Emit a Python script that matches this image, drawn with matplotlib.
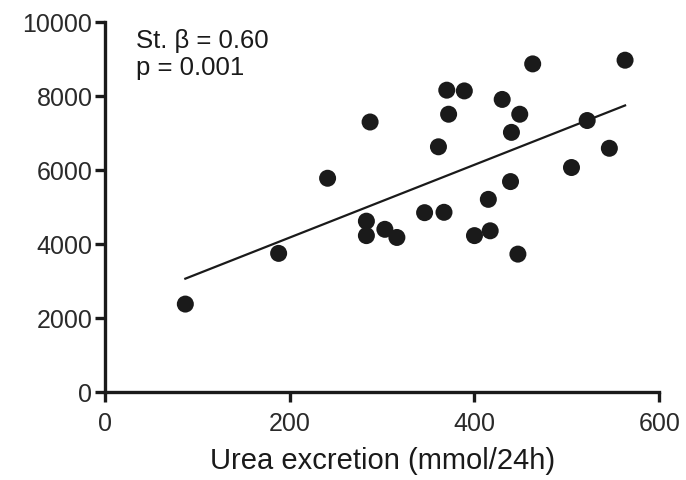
import numpy as np
import matplotlib
matplotlib.use("Agg")
import matplotlib.pyplot as plt

plt.rcParams["font.family"] = ["Liberation Sans", "DejaVu Sans"]

# urea excretion (mmol/24h) vs outcome per subject
urea = [87, 188, 241, 287, 283, 283, 303, 316, 346, 367, 361, 372, 370, 389,
        400, 417, 415, 430, 440, 439, 449, 447, 463, 505, 522, 546, 563]
value = [2380, 3750, 5780, 7300, 4620, 4230, 4400, 4180, 4850, 4860, 6630, 7510,
         8160, 8140, 4230, 4360, 5210, 7910, 7020, 5690, 7510, 3730, 8870, 6070,
         7340, 6590, 8970]
stats_text = "St. \u03b2 = 0.60\np = 0.001"

xticks = [0, 200, 400, 600]
yticks = [0, 2000, 4000, 6000, 8000, 10000]

ink = "#1a1a1a"

fig = plt.figure(figsize=(6.86, 4.80), dpi=100)
ax = fig.add_axes([0.153, 0.183, 0.808, 0.771])

ax.scatter(urea, value, s=150, color=ink, edgecolors="none", zorder=3)

# least-squares line over the observed range
slope, intercept = np.polyfit(urea, value, 1)
xs = np.array([min(urea), max(urea)])
ax.plot(xs, slope * xs + intercept, color=ink, lw=1.6, zorder=2)

ax.text(34, 9800, stats_text, va="top", ha="left", fontsize=18.5,
        color=ink, linespacing=1.12)

ax.set_xlim(0, 600)
ax.set_ylim(0, 10000)
ax.set_xticks(xticks)
ax.set_yticks(yticks)
ax.set_xlabel("Urea excretion (mmol/24h)", fontsize=21, color=ink, labelpad=8)

for side in ("top", "right"):
    ax.spines[side].set_visible(False)
for side in ("left", "bottom"):
    ax.spines[side].set_linewidth(2.4)
    ax.spines[side].set_color(ink)
ax.tick_params(direction="out", length=7, width=2.4, color=ink,
               labelsize=18, labelcolor="#2a2a2a")
ax.tick_params(axis="x", pad=7)
ax.tick_params(axis="y", pad=2)

fig.savefig("out.png", dpi=100)
